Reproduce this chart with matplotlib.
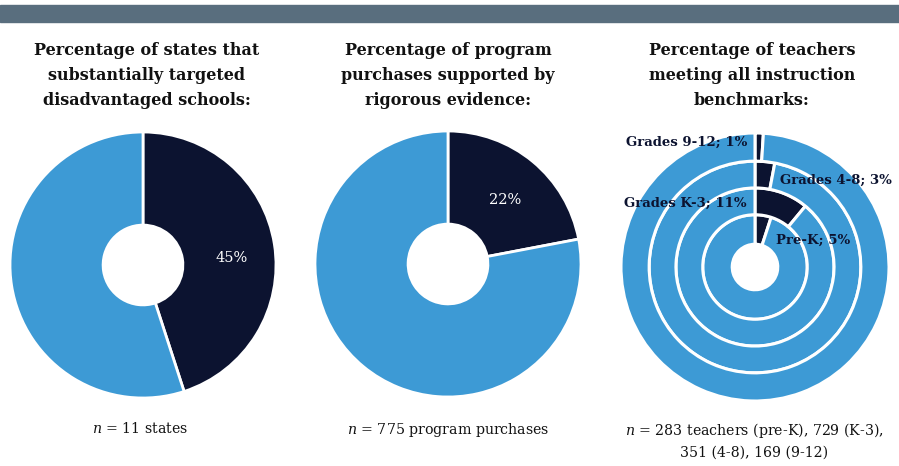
import matplotlib
matplotlib.use("Agg")
import matplotlib.pyplot as plt
from matplotlib.patches import Rectangle

plt.rcParams["mathtext.fontset"] = "dejavuserif"

# Data
titles = [
    "Percentage of states that\nsubstantially targeted\ndisadvantaged schools:",
    "Percentage of program\npurchases supported by\nrigorous evidence:",
    "Percentage of teachers\nmeeting all instruction\nbenchmarks:",
]
pct_states = 45
pct_purchases = 22
ring_labels = ["Pre-K", "Grades K-3", "Grades 4-8", "Grades 9-12"]
ring_values = [5, 11, 3, 1]
n_labels = [
    r"$\it{n}$ = 11 states",
    r"$\it{n}$ = 775 program purchases",
    "$\\it{n}$ = 283 teachers (pre-K), 729 (K-3),\n351 (4-8), 169 (9-12)",
]

DARK = "#0c1330"
LIGHT = "#3d9ad5"
SERIF = ["DejaVu Serif"]

W, H = 899, 466
fig = plt.figure(figsize=(W / 100, H / 100), dpi=100)
fig.patches.append(Rectangle((0, (H - 22) / H), 1, 17 / H, transform=fig.transFigure,
                             color="#596e7e", zorder=0))

def make_ax(cx, cy, r):
    ax = fig.add_axes([(cx - r) / W, (H - cy - r) / H, 2 * r / W, 2 * r / H])
    ax.set_axis_off()
    return ax

wp = dict(edgecolor="white", linewidth=2)

# Pie 1
ax1 = make_ax(143, 265, 133)
ax1.pie([pct_states, 100 - pct_states], colors=[DARK, LIGHT], startangle=90,
        counterclock=False, radius=1, wedgeprops=dict(width=0.7, **wp))
ax1.set_xlim(-1, 1); ax1.set_ylim(-1, 1)
ax1.text(0.67, 0.05, f"{pct_states}%", color="white", fontsize=10.5,
         ha="center", va="center", family=SERIF)

# Pie 2
ax2 = make_ax(448, 264, 133)
ax2.pie([pct_purchases, 100 - pct_purchases], colors=[DARK, LIGHT], startangle=90,
        counterclock=False, radius=1, wedgeprops=dict(width=0.7, **wp))
ax2.set_xlim(-1, 1); ax2.set_ylim(-1, 1)
ax2.text(0.43, 0.48, f"{pct_purchases}%", color="white", fontsize=10.5,
         ha="center", va="center", family=SERIF)

# Pie 3: concentric rings
ax3 = make_ax(755, 267, 134)
outer_r = [0.39, 0.59, 0.79, 1.0]
widths = [0.22, 0.2, 0.2, 0.21]
for v, r, w in zip(ring_values, outer_r, widths):
    ax3.pie([v, 100 - v], colors=[DARK, LIGHT], startangle=90, counterclock=False,
            radius=r, wedgeprops=dict(width=w, edgecolor="white", linewidth=2.2))
ax3.set_xlim(-1, 1); ax3.set_ylim(-1, 1)

label_pos = [  # (x, y, ha) in pixels
    (776, 240, "left"),
    (747, 203, "right"),
    (780, 180, "left"),
    (747, 142, "right"),
]
for lab, v, (x, y, ha) in zip(ring_labels, ring_values, label_pos):
    fig.text(x / W, 1 - y / H, f"{lab}; {v}%", fontsize=9.5, fontweight="bold",
             color=DARK, ha=ha, va="center", family=SERIF)

# Titles
for t, cx in zip(titles, [147, 448, 752]):
    fig.text(cx / W, 1 - 42 / H, t, fontsize=11.5, fontweight="bold", ha="center",
             va="top", linespacing=1.6, color="#111111", family=SERIF)

# n labels
for t, cx in zip(n_labels, [140, 448, 754]):
    fig.text(cx / W, 1 - 421 / H, t, fontsize=10.2, ha="center", va="top",
             linespacing=1.55, color="#111111", family=SERIF)

fig.savefig("out.png", dpi=100)
